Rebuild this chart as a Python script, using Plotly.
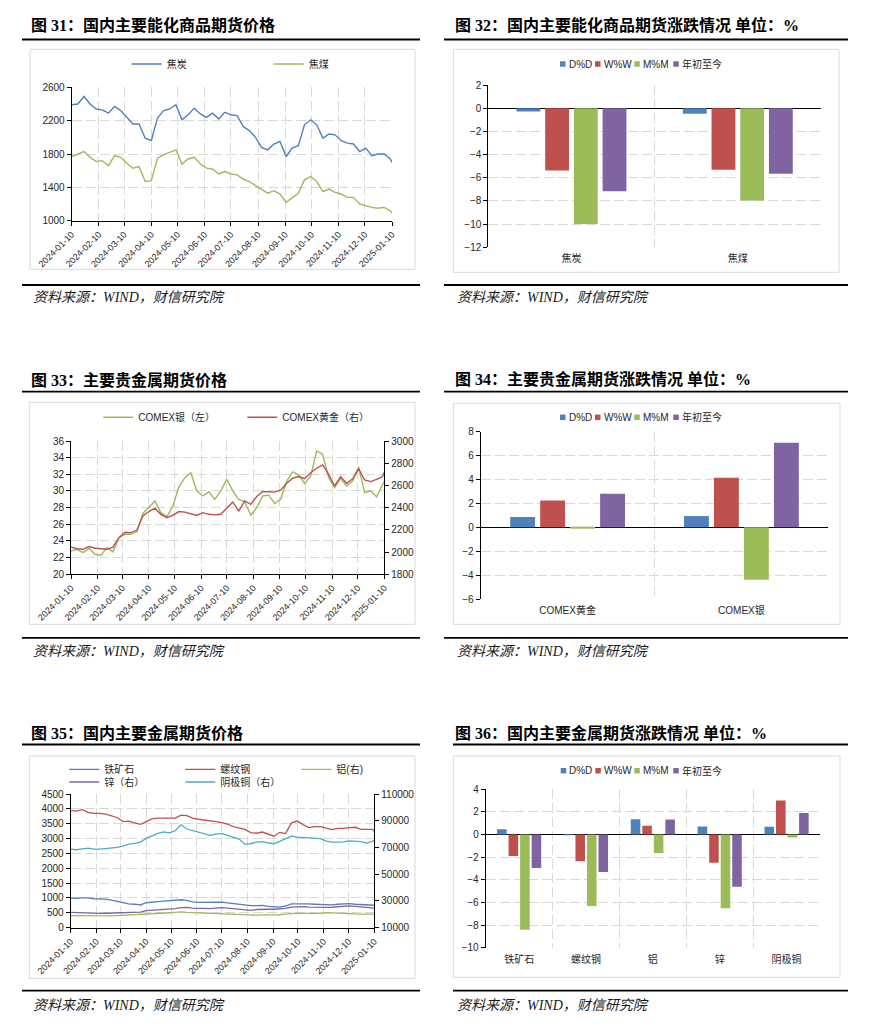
import plotly.graph_objects as go
import pandas as pd

# The page body adds an 8px margin, so the figure is sized to the remaining area
# and every reference pixel position is shifted by that offset.
OFF = 8
W, H = 874 - OFF, 1035 - OFF


def px(x):
    return (x - OFF) / W


def py(y):
    return 1 - (y - OFF) / H


# ------------------------------------------------------------------ data
dates = list(pd.date_range('2024-01-10', '2025-01-08', freq='7D').strftime('%Y-%m-%d')) + ['2025-01-10']
date_ticks = ['2024-01-10', '2024-02-10', '2024-03-10', '2024-04-10', '2024-05-10', '2024-06-10',
              '2024-07-10', '2024-08-10', '2024-09-10', '2024-10-10', '2024-11-10', '2024-12-10',
              '2025-01-10']

# Fig 31
coke = [2390, 2400, 2490, 2400, 2340, 2330, 2290, 2370, 2320, 2240, 2160, 2160, 1990, 1960,
        2230, 2320, 2340, 2390, 2210, 2270, 2350, 2280, 2240, 2290, 2220, 2300, 2270, 2260,
        2130, 2080, 2000, 1880, 1850, 1920, 1950, 1770, 1870, 1900, 2150, 2210, 2150, 1990,
        2040, 2030, 1960, 1930, 1920, 1830, 1870, 1780, 1800, 1800, 1740, 1700]
coking_coal = [1770, 1800, 1830, 1760, 1710, 1720, 1660, 1780, 1760, 1690, 1630, 1650, 1470, 1480,
               1750, 1790, 1820, 1850, 1680, 1740, 1760, 1680, 1630, 1620, 1560, 1590, 1560, 1550,
               1500, 1470, 1420, 1370, 1330, 1360, 1320, 1220, 1270, 1330, 1490, 1530, 1470, 1350,
               1380, 1340, 1320, 1280, 1280, 1200, 1180, 1160, 1150, 1160, 1120, 1090]

# Fig 33
silver = [22.8, 23.0, 22.6, 23.1, 22.4, 22.3, 23.2, 22.7, 24.4, 24.8, 24.8, 25.1, 27.3, 28.1,
          28.8, 27.4, 26.9, 28.2, 30.5, 31.6, 32.2, 30.0, 29.4, 29.9, 29.0, 30.0, 31.4, 30.0,
          29.0, 28.7, 27.1, 28.0, 29.4, 29.5, 28.5, 29.0, 31.2, 32.3, 31.9, 30.9, 31.8, 34.8,
          34.4, 31.6, 30.4, 31.5, 30.6, 31.2, 32.9, 29.8, 30.0, 29.3, 30.8, 31.2]
gold = [2045, 2030, 2025, 2050, 2035, 2030, 2025, 2045, 2130, 2178, 2175, 2198, 2325, 2365,
        2395, 2340, 2310, 2330, 2365, 2360, 2345, 2330, 2355, 2340, 2335, 2340, 2395, 2450,
        2370, 2460, 2430, 2500, 2545, 2545, 2540, 2560, 2620, 2665, 2680, 2660, 2715, 2755,
        2785, 2700, 2595, 2680, 2620, 2660, 2750, 2650, 2635, 2655, 2680, 2718]

# Fig 35
iron_ore = [995, 985, 1005, 1005, 975, 978, 965, 930, 880, 840, 805, 790, 765, 840, 870, 880,
            895, 905, 905, 940, 920, 870, 850, 855, 860, 880, 860, 835, 805, 790, 760, 740, 745,
            750, 720, 700, 690, 730, 800, 800, 805, 800, 790, 775, 770, 770, 790, 810, 810, 790,
            785, 775, 760, 755]
rebar = [3940, 3925, 3975, 3880, 3850, 3850, 3820, 3770, 3710, 3570, 3590, 3530, 3480, 3570,
         3660, 3685, 3700, 3690, 3690, 3790, 3770, 3690, 3650, 3630, 3610, 3570, 3540, 3490,
         3400, 3345, 3310, 3200, 3180, 3220, 3160, 3080, 3210, 3170, 3520, 3590, 3470, 3370,
         3400, 3400, 3350, 3300, 3340, 3340, 3370, 3380, 3310, 3320, 3310, 3240]
aluminium = [19100, 19000, 19100, 19000, 18900, 18900, 18900, 18900, 19100, 19300, 19400, 19500,
             19700, 20300, 20500, 20600, 20800, 21200, 21500, 21800, 21500, 21200, 21000, 20800,
             20700, 20600, 20400, 20000, 19800, 19600, 19400, 19200, 19400, 19600, 19500, 19500,
             19700, 20200, 20800, 20900, 20700, 20600, 20800, 20800, 21300, 21000, 20800, 20500,
             20500, 20300, 20200, 20000, 20100, 20100]
zinc = [21400, 21200, 21000, 20900, 20700, 20700, 20800, 21000, 21000, 21000, 21100, 21300,
        21700, 22800, 23000, 23400, 23800, 24000, 24300, 25000, 25200, 24700, 24500, 24500,
        24200, 24700, 25000, 24600, 24200, 23900, 23400, 23000, 23600, 23900, 23800, 23800,
        23900, 24500, 25400, 25800, 25700, 25400, 25200, 25400, 25200, 25300, 25800, 25900,
        26300, 26000, 25700, 25300, 24800, 24600]
copper = [68700, 68300, 69000, 69500, 68800, 68700, 69200, 69500, 70000, 71000, 72500, 73000,
          74000, 76800, 78800, 80500, 81700, 81000, 82500, 87000, 83800, 82500, 81300, 80300,
          79000, 80000, 80300, 79000, 77500, 76300, 72500, 72800, 74000, 74300, 73500, 72800,
          74500, 76300, 78500, 77700, 77400, 77300, 77000, 76600, 74700, 74000, 74000, 74200,
          75000, 74500, 74400, 73300, 74500, 75200]

# Bar charts
bar_series = ['D%D', 'W%W', 'M%M', '年初至今']
energy_cats = ['焦炭', '焦煤']
energy_dd = [-0.29, -0.49]
energy_ww = [-5.37, -5.31]
energy_mm = [-10.0, -7.97]
energy_ytd = [-7.17, -5.66]

precious_cats = ['COMEX黄金', 'COMEX银']
precious_dd = [0.86, 0.94]
precious_ww = [2.25, 4.14]
precious_mm = [-0.11, -4.39]
precious_ytd = [2.81, 7.08]

metal_cats = ['铁矿石', '螺纹钢', '铝', '锌', '阴极铜']
metal_dd = [0.47, 0.02, 1.36, 0.71, 0.68]
metal_ww = [-1.90, -2.37, 0.77, -2.49, 3.02]
metal_mm = [-8.41, -6.31, -1.63, -6.52, -0.27]
metal_ytd = [-2.96, -3.32, 1.33, -4.62, 1.90]

# ------------------------------------------------------------------ style
BLUE, RED, GREEN, PURPLE, CYAN = '#4F81BD', '#C0504D', '#9BBB59', '#8064A2', '#4BACC6'
BAR_COLORS = [BLUE, RED, GREEN, PURPLE]
LAT = 'Liberation Sans, Arial, Noto Sans CJK SC, sans-serif'
SERIF = 'Liberation Serif, Noto Sans CJK SC, serif'
TXT = '#262626'
GRID = '#D9D9D9'
GDASH = '10px,4px'


def date_x(dom, anchor):
    return dict(domain=dom, anchor=anchor, type='date', automargin=False,
                range=[date_ticks[0], date_ticks[-1]],
                tickmode='array', tickvals=date_ticks, ticktext=date_ticks, tickangle=-45,
                tickfont=dict(family=LAT, size=9, color=TXT),
                showgrid=True, gridcolor=GRID, gridwidth=1.2, griddash=GDASH,
                showline=True, linecolor='black', linewidth=1, ticks='outside', ticklen=4,
                tickcolor='black', zeroline=False)


def val_y(dom, anchor, rng, dtick, side='left', grid=True, overlaying=None):
    d = dict(anchor=anchor, range=rng, dtick=dtick, tick0=rng[0], side=side, automargin=False,
             tickformat='d',
             tickfont=dict(family=LAT, size=10, color=TXT),
             showgrid=grid, gridcolor=GRID, gridwidth=1.2, griddash=GDASH,
             showline=True, linecolor='black', linewidth=1, ticks='outside', ticklen=4,
             tickcolor='black', zeroline=False)
    if overlaying:
        d['overlaying'] = overlaying
    else:
        d['domain'] = dom
    return d


def cat_x(dom, anchor):
    return dict(domain=dom, anchor=anchor, type='category', tickson='boundaries', automargin=False,
                showgrid=True, gridcolor=GRID, gridwidth=1.2, griddash=GDASH,
                showline=False, ticks='', tickfont=dict(family=LAT, size=10, color=TXT),
                ticklabelstandoff=4, zeroline=False)


def bar_y(dom, anchor, rng, dtick):
    return dict(domain=dom, anchor=anchor, range=rng, dtick=dtick, tick0=0, automargin=False,
                tickfont=dict(family=LAT, size=10, color=TXT),
                showgrid=True, gridcolor=GRID, gridwidth=1.2, griddash=GDASH,
                showline=True, linecolor='black', linewidth=1, ticks='outside', ticklen=4,
                tickcolor='black', zeroline=True, zerolinecolor='black', zerolinewidth=1)


def dom_x(a, b):
    return [px(a), px(b)]


def dom_y(top, bottom):
    return [py(bottom), py(top)]


fig = go.Figure()

# ---- Fig 31 lines
fig.add_trace(go.Scatter(x=dates, y=coke, name='焦炭', mode='lines',
                         line=dict(color=BLUE, width=1.4), xaxis='x', yaxis='y', legend='legend'))
fig.add_trace(go.Scatter(x=dates, y=coking_coal, name='焦煤', mode='lines',
                         line=dict(color=GREEN, width=1.4), xaxis='x', yaxis='y', legend='legend'))

# ---- Fig 33 lines
fig.add_trace(go.Scatter(x=dates, y=silver, name='COMEX银（左）', mode='lines',
                         line=dict(color=GREEN, width=1.4), xaxis='x3', yaxis='y3', legend='legend2'))
fig.add_trace(go.Scatter(x=dates, y=gold, name='COMEX黄金（右）', mode='lines',
                         line=dict(color=RED, width=1.4), xaxis='x3', yaxis='y4', legend='legend2'))

# ---- Fig 35 lines
fig.add_trace(go.Scatter(x=dates, y=iron_ore, name='铁矿石', mode='lines',
                         line=dict(color=BLUE, width=1.3), xaxis='x5', yaxis='y6', legend='legend3'))
fig.add_trace(go.Scatter(x=dates, y=rebar, name='螺纹钢', mode='lines',
                         line=dict(color=RED, width=1.3), xaxis='x5', yaxis='y6', legend='legend3'))
fig.add_trace(go.Scatter(x=dates, y=aluminium, name='铝(右)', mode='lines',
                         line=dict(color=GREEN, width=1.3), xaxis='x5', yaxis='y7', legend='legend3'))
fig.add_trace(go.Scatter(x=dates, y=zinc, name='锌（右）', mode='lines',
                         line=dict(color=PURPLE, width=1.3), xaxis='x5', yaxis='y7', legend='legend4'))
fig.add_trace(go.Scatter(x=dates, y=copper, name='阴极铜（右）', mode='lines',
                         line=dict(color=CYAN, width=1.3), xaxis='x5', yaxis='y7', legend='legend4'))

# ---- bar charts
for cats, vals, xa, ya in [
    (energy_cats, [energy_dd, energy_ww, energy_mm, energy_ytd], 'x2', 'y2'),
    (precious_cats, [precious_dd, precious_ww, precious_mm, precious_ytd], 'x4', 'y5'),
    (metal_cats, [metal_dd, metal_ww, metal_mm, metal_ytd], 'x6', 'y8'),
]:
    for name, v, c in zip(bar_series, vals, BAR_COLORS):
        fig.add_trace(go.Bar(x=cats, y=v, name=name, marker=dict(color=c, line=dict(width=0)),
                             xaxis=xa, yaxis=ya, showlegend=False))

# ------------------------------------------------------------------ decorations
shapes = []
annotations = []

panels = [
    ('图 31：国内主要能化商品期货价格', 25, 31, 39.5, 22, 420, (30, 49.3, 415, 269.3), 285, 297),
    ('图 32：国内主要能化商品期货涨跌情况 单位：%', 25, 455, 39.5, 444, 848, (453.3, 49.3, 839, 272.3), 285, 297),
    ('图 33：主要贵金属期货价格', 380, 31, 391.7, 22, 420, (29.3, 402.3, 415, 624.3), 637.8, 651.7),
    ('图 34：主要贵金属期货涨跌情况 单位：%', 379, 455, 391.7, 444, 848, (453.3, 403.3, 840, 624.3), 637.8, 651.7),
    ('图 35：国内主要金属期货价格', 733, 31, 744.5, 22, 420, (29.3, 756, 415, 978.3), 990.7, 1005.7),
    ('图 36：国内主要金属期货涨跌情况 单位：%', 733, 455, 744.5, 453, 848, (453.3, 756, 840, 977.3), 990.7, 1005.7),
]
for title, ty, tx, ly, lx0, lx1, box, bly, sy in panels:
    annotations.append(dict(text=title, x=px(tx - 2), y=py(ty), xref='paper', yref='paper',
                            xanchor='left', yanchor='middle', showarrow=False,
                            font=dict(family=SERIF, size=16, color='black', weight='bold')))
    shapes.append(dict(type='line', xref='paper', yref='paper', x0=px(lx0), x1=px(lx1),
                       y0=py(ly), y1=py(ly), line=dict(color='black', width=1.8)))
    shapes.append(dict(type='line', xref='paper', yref='paper', x0=px(lx0), x1=px(lx1),
                       y0=py(bly), y1=py(bly), line=dict(color='black', width=1.8)))
    shapes.append(dict(type='rect', xref='paper', yref='paper', x0=px(box[0]), x1=px(box[2]),
                       y0=py(box[3]), y1=py(box[1]), line=dict(color='#D9D9D9', width=1),
                       fillcolor='rgba(0,0,0,0)', layer='below'))
    annotations.append(dict(text='资料来源：WIND，财信研究院', x=px(tx), y=py(sy),
                            xref='paper', yref='paper', xanchor='left', yanchor='middle',
                            showarrow=False,
                            font=dict(family=SERIF, size=14, color='#1A1A1A', style='italic')))

# bar chart legends (square swatches + labels)
for ly, lefts in [(64, [560, 595, 634.3, 673.3]),
                  (417.3, [560, 595, 634.3, 673.3]),
                  (770.7, [560.7, 595.3, 634.3, 673.3])]:
    for name, c, x0 in zip(bar_series, BAR_COLORS, lefts):
        shapes.append(dict(type='rect', xref='paper', yref='paper', x0=px(x0), x1=px(x0 + 5.5),
                           y0=py(ly + 2.75), y1=py(ly - 2.75), fillcolor=c, line=dict(width=0)))
        annotations.append(dict(text=name, x=px(x0 + 6.5), y=py(ly), xref='paper', yref='paper',
                                xanchor='left', yanchor='middle', showarrow=False,
                                font=dict(family=LAT, size=10, color=TXT)))

legend_common = dict(orientation='h', xanchor='left', yanchor='middle', bgcolor='rgba(0,0,0,0)',
                     font=dict(family=LAT, size=10, color=TXT), entrywidthmode='pixels',
                     itemwidth=30, borderwidth=0, traceorder='normal')

fig.update_layout(
    width=W, height=H, autosize=False, margin=dict(l=0, r=0, t=0, b=0, pad=0, autoexpand=False),
    paper_bgcolor='white', plot_bgcolor='white',
    barmode='group', bargap=0.31, bargroupgap=0.17,
    showlegend=True,
    shapes=shapes, annotations=annotations,
    legend=dict(legend_common, x=px(126.7), y=py(64), entrywidth=97),
    legend2=dict(legend_common, x=px(98.3), y=py(417.3), entrywidth=99),
    legend3=dict(legend_common, x=px(64.3), y=py(769.3), entrywidth=71),
    legend4=dict(legend_common, x=px(64.3), y=py(782), entrywidth=71),
    # Fig 31
    xaxis=date_x(dom_x(71.7, 392), 'y'),
    yaxis=val_y(dom_y(87.3, 220.7), 'x', [1000, 2600], 400),
    # Fig 32
    xaxis2=cat_x(dom_x(488.3, 821), 'y2'),
    yaxis2=bar_y(dom_y(85, 247.3), 'x2', [-12, 2], 2),
    # Fig 33
    xaxis3=date_x(dom_x(71, 384.3), 'y3'),
    yaxis3=val_y(dom_y(441, 574.3), 'x3', [20, 36], 2),
    yaxis4=val_y(None, 'x3', [1800, 3000], 200, side='right', grid=False, overlaying='y3'),
    # Fig 34
    xaxis4=cat_x(dom_x(480.7, 828.3), 'y5'),
    yaxis5=bar_y(dom_y(431.7, 599), 'x4', [-6, 8], 2),
    # Fig 35
    xaxis5=date_x(dom_x(70.7, 374.3), 'y6'),
    yaxis6=val_y(dom_y(794, 927.7), 'x5', [0, 4500], 500),
    yaxis7=val_y(None, 'x5', [10000, 110000], 20000, side='right', grid=False, overlaying='y6'),
    # Fig 36
    xaxis6=cat_x(dom_x(485.7, 820), 'y8'),
    yaxis8=bar_y(dom_y(789.3, 947.7), 'x6', [-10, 4], 2),
)

fig.write_html('out.html')
